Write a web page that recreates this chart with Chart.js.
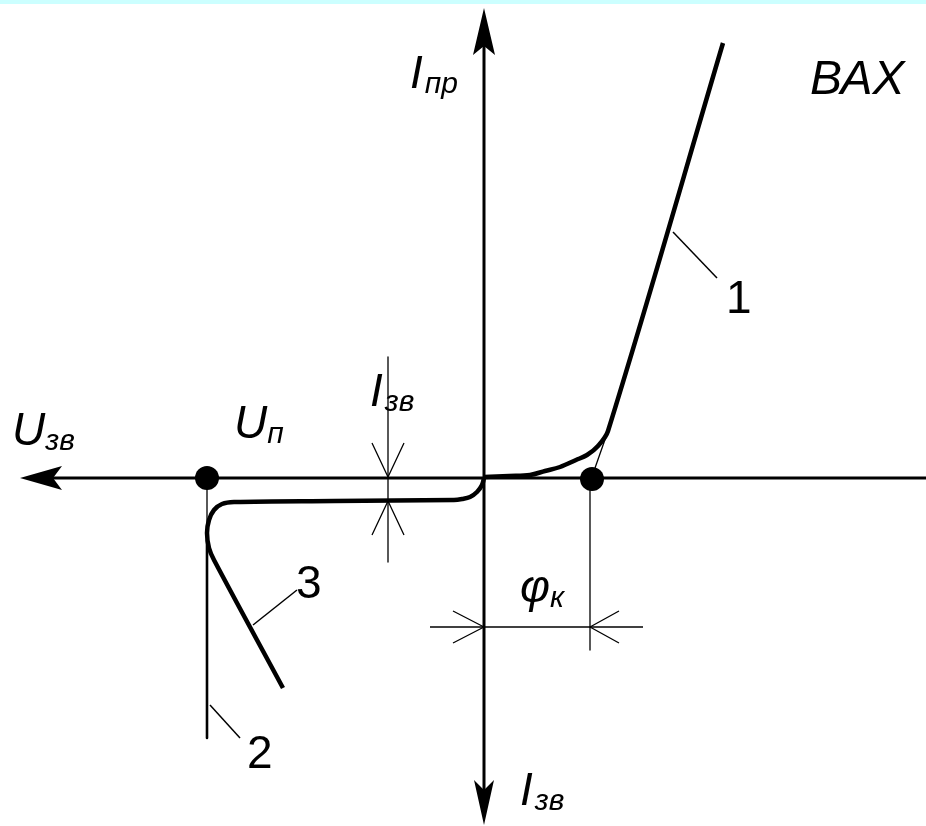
<!DOCTYPE html>
<html lang="uk">
<head>
<meta charset="utf-8">
<title>ВАХ</title>
<script src="https://cdn.jsdelivr.net/npm/chart.js@4/dist/chart.umd.min.js"></script>
<style>
  html, body { margin: 0; padding: 0; background: #fff; }
  canvas { display: block; }
  .strip { position: absolute; left: 0; top: 0; width: 926px; height: 4px; background: #ccffff; }
</style>
</head>
<body>
<canvas id="vax" width="926" height="826"></canvas>
<div class="strip"></div>
<script>
// Coordinates: origin at the crossing of the axes, x to the right (forward voltage), y up (forward current)

// 1 - forward branch
const forwardBranch = [[0, 1], [25, 2], [46, 3], [61, 7], [76, 11], [92, 18], [103, 23], [114, 32], [124, 47], [239, 435]];
// reverse branch bending into breakdown (3)
const reverseBranch = [[0, 0], [-2, -7], [-7, -14], [-14, -19], [-22, -21], [-30, -22], [-150, -23], [-250, -24],
  [-262, -26], [-270, -32], [-275, -42], [-277, -55], [-275, -70], [-270, -82], [-201, -210]];
// 2 - vertical breakdown line at U_п
const breakdownThin = [[-277, -1], [-277, -45]];
const breakdownLine = [[-277, -62], [-277, -260]];
// marked points: U_п and φк
const markedPoints = [[-277, 0], [108, -1]];

// axes
const axisU = [[-440, 0], [442, 0]];
const axisI = [[0, 440], [0, -320]];
const arrowLeft = [[-464, 0], [-422, 12], [-431, 0], [-422, -12]];
const arrowUp = [[0, 470], [-11, 423], [0, 432], [11, 423]];
const arrowDown = [[0, -347], [-10, -302], [0, -312], [10, -302]];

// construction lines
const tangentLine = [[124, 47], [111, 10]];
const phiExtension = [[106, -12], [106, -172]];
const phiDimension = [[-54, -149], [159, -149]];
const phiArrowL = [[-31, -133], [0, -149], [-31, -165]];
const phiArrowR = [[135, -133], [106, -149], [135, -165]];
const iExtension = [[-96, 121], [-96, -84]];
const iArrowTop = [[-112, 35], [-96, 1], [-80, 35]];
const iArrowBottom = [[-112, -57], [-96, -23], [-80, -57]];

// leaders to the curve numbers
const leader1 = [[189, 246], [233, 200]];
const leader2 = [[-274, -227], [-244, -260]];
const leader3 = [[-231, -147], [-187, -112]];

const FONT = '"Liberation Sans", Arial, sans-serif';
const pts = a => a.map(([x, y]) => ({ x, y }));

function line(data, width, tension) {
    return {
        data: pts(data), showLine: true, borderColor: '#000', borderWidth: width,
        pointRadius: 0, tension: tension || 0, fill: false,
        borderCapStyle: 'butt', borderJoinStyle: 'round'
    };
}

// filled arrow heads on the axes
const arrowHeads = {
    id: 'arrowHeads',
    afterDatasetsDraw(chart, args, opts) {
        const { ctx, scales: { x, y } } = chart;
        ctx.save();
        ctx.fillStyle = '#000';
        opts.shapes.forEach(shape => {
            ctx.beginPath();
            shape.forEach(([px, py], i) => {
                const cx = x.getPixelForValue(px), cy = y.getPixelForValue(py);
                i ? ctx.lineTo(cx, cy) : ctx.moveTo(cx, cy);
            });
            ctx.closePath();
            ctx.fill();
        });
        ctx.restore();
    }
};

// axis names, point names and curve numbers
const textLabels = {
    id: 'textLabels',
    afterDatasetsDraw(chart, args, opts) {
        const { ctx, scales: { x, y } } = chart;
        ctx.save();
        ctx.fillStyle = '#000';
        ctx.textBaseline = 'alphabetic';
        ctx.textAlign = 'left';
        opts.items.forEach(l => {
            const px = x.getPixelForValue(l.x), py = y.getPixelForValue(l.y);
            ctx.font = `${l.italic ? 'italic ' : ''}${l.size}px ${FONT}`;
            ctx.fillText(l.main, px, py);
            if (l.sub) {
                const w = ctx.measureText(l.main).width;
                ctx.font = `italic ${l.subSize}px ${FONT}`;
                ctx.fillText(l.sub, px + w + (l.gap || 0), py + (l.drop || 5));
            }
        });
        ctx.restore();
    }
};

new Chart(document.getElementById('vax'), {
    type: 'scatter',
    data: {
        datasets: [
            line(axisU, 3),
            line(axisI, 3),
            line(forwardBranch, 4.5, 0.35),
            line(reverseBranch, 4.5, 0.35),
            line(breakdownThin, 1.3),
            line(breakdownLine, 2.6),
            line(tangentLine, 1.3),
            line(phiExtension, 1.3),
            line(phiDimension, 1.3),
            line(phiArrowL, 1.3),
            line(phiArrowR, 1.3),
            line(iExtension, 1.3),
            line(iArrowTop, 1.3),
            line(iArrowBottom, 1.3),
            line(leader1, 1.5),
            line(leader2, 1.5),
            line(leader3, 1.5),
            {
                data: pts(markedPoints), showLine: false, pointRadius: 12, pointHoverRadius: 12,
                pointBackgroundColor: '#000', pointBorderColor: '#000', pointBorderWidth: 0
            }
        ]
    },
    options: {
        responsive: false,
        devicePixelRatio: 1,
        animation: false,
        events: [],
        layout: { padding: 0, autoPadding: false },
        scales: {
            x: { type: 'linear', min: -484, max: 442, display: false },
            y: { type: 'linear', min: -348, max: 478, display: false }
        },
        plugins: {
            legend: { display: false },
            tooltip: { enabled: false },
            arrowHeads: { shapes: [arrowLeft, arrowUp, arrowDown] },
            textLabels: {
                items: [
                    { main: 'ВАХ', x: 326, y: 384, size: 48, italic: true },
                    { main: 'I', sub: 'пр', x: -74, y: 390, size: 46, subSize: 30, italic: true, gap: 2 },
                    { main: 'U', sub: 'зв', x: -472, y: 33, size: 46, subSize: 30, italic: true },
                    { main: 'U', sub: 'п', x: -250, y: 40, size: 46, subSize: 30, italic: true },
                    { main: 'I', sub: 'зв', x: -114, y: 72, size: 46, subSize: 30, italic: true, gap: 2 },
                    { main: 'φ', sub: 'к', x: 36, y: -124, size: 46, subSize: 30, italic: true },
                    { main: 'I', sub: 'зв', x: 36, y: -327, size: 46, subSize: 30, italic: true, gap: 2 },
                    { main: '1', x: 242, y: 165, size: 46 },
                    { main: '2', x: -237, y: -290, size: 46 },
                    { main: '3', x: -188, y: -120, size: 46 }
                ]
            }
        }
    },
    plugins: [arrowHeads, textLabels]
});
</script>
</body>
</html>
